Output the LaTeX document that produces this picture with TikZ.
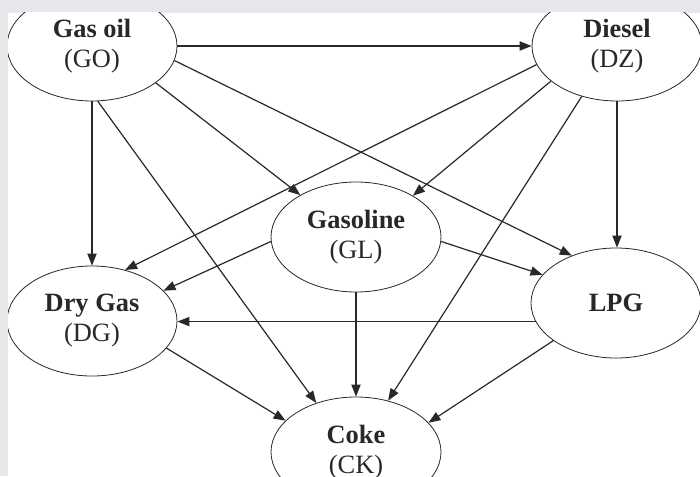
\documentclass[tikz,border=0pt]{standalone}
\usepackage{fontspec}
\setmainfont{Liberation Serif}
\usepackage{tikz}
\usetikzlibrary{shapes.geometric, arrows.meta}
\definecolor{framegray}{RGB}{229, 231, 234}
\definecolor{inkgray}{RGB}{40, 40, 40}

\begin{document}
\begin{tikzpicture}[
    x=0.5pt, y=-0.5pt,
    fuel/.style={ellipse, draw=inkgray, fill=white, minimum width=85pt, minimum height=55pt, inner sep=0pt, align=center, text=inkgray, font=\fontsize{13.2}{15}\selectfont},
    arrow/.style={-{Triangle[length=6pt, width=4.6pt]}, inkgray, line width=0.6pt}
]

\useasboundingbox (0,0) rectangle (700,476);
\fill[framegray] (0,0) rectangle (700,476);
\fill[white] (8,13) rectangle (700,476);

\begin{scope}
\clip (8,13) rectangle (700,476);

\node[fuel] (go) at (92,46) {\textbf{Gas oil}\\(GO)};
\node[fuel] (dz) at (617,46) {\textbf{Diesel}\\(DZ)};
\node[fuel] (gl) at (356,237) {\textbf{Gasoline}\\(GL)};
\node[fuel] (dg) at (92,321) {\textbf{Dry Gas}\\(DG)};
\node[fuel] (lpg) at (616,303) {\textbf{LPG}};
\node[fuel] (ck) at (356,452) {\textbf{Coke}\\(CK)};

\draw[arrow] (go.east) -- (dz.west);
\draw[arrow] (go.-30) -- (gl.143);
\draw[arrow] (go.-10) -- (lpg.133);
\draw[arrow] (go.south) -- (dg.north);
\draw[arrow] (go.-84) -- (ck.129);

\draw[arrow] (dz.193) -- (dg.57);
\draw[arrow] (dz.208) -- (gl.36);
\draw[arrow] (dz.235) -- (ck.58);
\draw[arrow] (dz.south) -- (dz.south |- lpg.north);

\draw[arrow] (gl.183) -- (dg.23);
\draw[arrow] (gl.-3) -- (lpg.159);
\draw[arrow] (gl.south) -- (ck.north);

\draw[arrow] (lpg.193) -- (lpg.193 -| dg.east);
\draw[arrow] (dg.-20) -- (ck.156);
\draw[arrow] (lpg.211) -- (ck.22);
\end{scope}

\end{tikzpicture}
\end{document}
